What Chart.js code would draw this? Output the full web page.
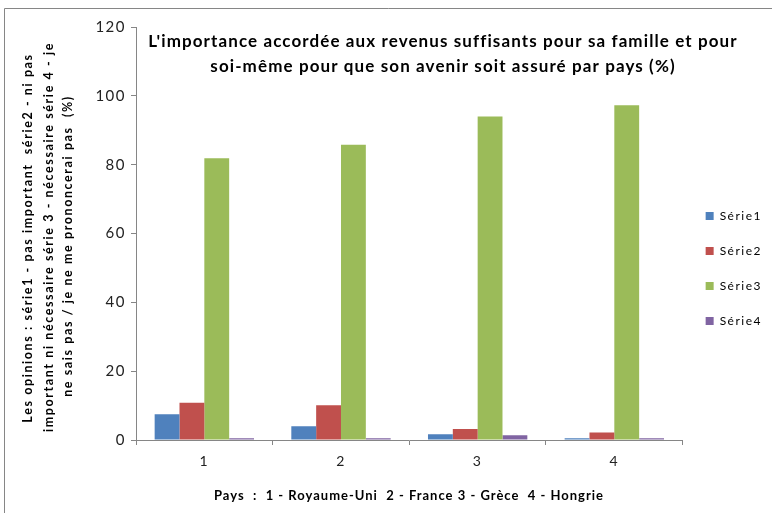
<!DOCTYPE html>
<html>
<head>
<meta charset="utf-8">
<script src="https://cdn.jsdelivr.net/npm/chart.js@4"></script>
<style>
  body { margin: 0; background: #fff; }
</style>
</head>
<body>
<canvas id="myChart" width="772" height="513"></canvas>
<script>
// data
const categories = ['1', '2', '3', '4'];
const seriesNames = ['Série1', 'Série2', 'Série3', 'Série4'];
const serie1 = [7.5, 4.0, 1.7, 0.5];
const serie2 = [10.8, 10.1, 3.2, 2.2];
const serie3 = [81.9, 85.8, 94.0, 97.3];
const serie4 = [0.5, 0.5, 1.4, 0.5];
const colors = ['#4F81BD', '#C0504D', '#9BBB59', '#8064A2'];

const titleLines = [
    "L'importance accordée aux revenus suffisants pour sa famille et pour",
    "soi-même pour que son avenir soit assuré par pays (%)"
];
const yTitle = [
    'Les opinions : série1 - pas important  série2 - ni pas',
    'important ni nécessaire série 3 - nécessaire série 4 - je',
    'ne sais pas / je ne me prononcerai pas  (%)'
];
const xTitle = 'Pays  :  1 - Royaume-Uni  2 - France 3 - Grèce  4 - Hongrie';

const FONT = 'Lato, "Open Sans", sans-serif';
const AXIS = '#868686';

// the original text is stretched sideways, so space the letters out a bit
const textPlugin = {
    id: 'texts',
    beforeUpdate(chart) { chart.ctx.letterSpacing = '1.5px'; },
    beforeDraw(chart) {
        const c = chart.ctx;
        c.letterSpacing = '1.5px';
        // outer frame
        c.save();
        c.strokeStyle = AXIS;
        c.lineWidth = 1;
        c.beginPath();
        c.moveTo(4.5, 600);
        c.lineTo(4.5, 8.5);
        c.lineTo(800, 8.5);
        c.stroke();
        c.restore();
    },
    afterDraw(chart) {
        const c = chart.ctx;
        c.save();
        c.fillStyle = '#000';
        c.textAlign = 'center';
        c.textBaseline = 'middle';
        // chart title, sits inside the plot area
        c.letterSpacing = '1.1px';
        c.font = 'bold 17px ' + FONT;
        c.fillText(titleLines[0], 443, 42);
        c.fillText(titleLines[1], 443, 67);
        // x axis title
        c.letterSpacing = '1px';
        c.font = 'bold 13px ' + FONT;
        c.fillText(xTitle, 409, 496);
        // y axis title, three rotated lines
        c.letterSpacing = '1.6px';
        c.font = 'bold 12.5px ' + FONT;
        const xs = [28, 48.5, 68];
        const ys = [238, 237, 246];
        yTitle.forEach((line, i) => {
            c.save();
            c.translate(xs[i], ys[i]);
            c.rotate(-Math.PI / 2);
            c.fillText(line, 0, 0);
            c.restore();
        });
        c.restore();
    }
};

var ctx = document.getElementById('myChart').getContext('2d');
var datasets = [serie1, serie2, serie3, serie4].map((vals, i) => {
    return {
        label: seriesNames[i],
        data: vals,
        backgroundColor: colors[i],
        borderWidth: 0,
        barPercentage: 1,
        categoryPercentage: 0.727
    };
});

var chart = new Chart(ctx, {
    type: 'bar',
    data: { labels: categories, datasets: datasets },
    plugins: [textPlugin],
    options: {
        responsive: false,
        animation: false,
        layout: { padding: { left: 0, top: 27, right: 0, bottom: 3 } },
        scales: {
            x: {
                grid: { display: true, drawOnChartArea: false, drawTicks: true, tickLength: 5, color: AXIS, offset: true },
                border: { display: true, color: AXIS, width: 1 },
                ticks: { color: '#222', font: { family: FONT, size: 14 }, padding: 8 },
                afterFit(scale) { scale.height = 70; }
            },
            y: {
                min: 0, max: 120,
                ticks: { stepSize: 20, color: '#222', font: { family: FONT, size: 15 }, padding: 5 },
                grid: { display: true, drawOnChartArea: false, drawTicks: true, tickLength: 5, color: AXIS },
                border: { display: true, color: AXIS, width: 1 },
                afterFit(scale) { scale.width = 136; }
            }
        },
        plugins: {
            legend: {
                position: 'right',
                labels: {
                    boxWidth: 8, boxHeight: 8, padding: 23,
                    color: '#000', font: { family: FONT, size: 12 }
                }
            },
            tooltip: { enabled: false }
        }
    }
});
</script>
</body>
</html>
